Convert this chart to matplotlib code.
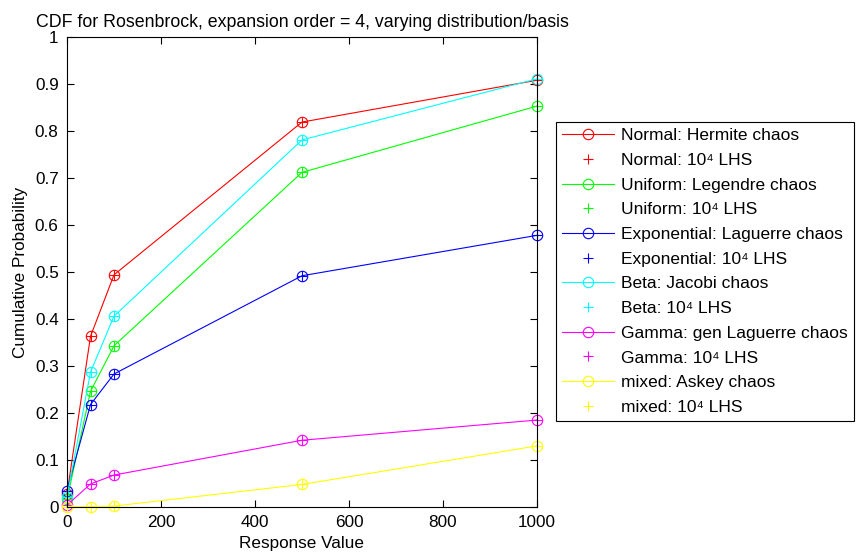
import numpy as np
import matplotlib
matplotlib.use("Agg")
import matplotlib.pyplot as plt
from matplotlib.ticker import FuncFormatter

plt.rcParams['font.family'] = ['Liberation Sans', 'DejaVu Sans']

response = [0, 50, 100, 500, 1000]

normal = [0.028, 0.363, 0.494, 0.819, 0.908]
uniform = [0.016, 0.246, 0.343, 0.712, 0.853]
exponential = [0.035, 0.218, 0.283, 0.492, 0.578]
beta = [0.022, 0.287, 0.406, 0.781, 0.911]
gamma = [0.004, 0.049, 0.068, 0.142, 0.185]
mixed = [0.001, 0.001, 0.002, 0.048, 0.130]

names = ["Normal", "Uniform", "Exponential", "Beta", "Gamma", "mixed"]
bases = ["Hermite chaos", "Legendre chaos", "Laguerre chaos",
         "Jacobi chaos", "gen Laguerre chaos", "Askey chaos"]
series = [normal, uniform, exponential, beta, gamma, mixed]
colors = ["#ff0000", "#00ff00", "#0000ff", "#00ffff", "#ff00ff", "#ffff00"]

fig = plt.figure(figsize=(8.6, 5.55), dpi=100)
ax = fig.add_axes([67/860, 48/555, 470/860, 470/555])

for name, basis, vals, col in zip(names, bases, series, colors):
    ax.plot(response, vals, '-o', color=col, lw=0.8, ms=7.5,
            mfc='none', mew=0.8, clip_on=False,
            label="%s: %s" % (name, basis))
    ax.plot(response, vals, '+', color=col, ms=7.5, mew=0.8,
            clip_on=False, label="%s: 10\u2074 LHS" % name)

ax.set_xlim(0, 1000)
ax.set_ylim(0, 1)
ax.set_xticks(np.arange(0, 1001, 200))
ax.set_yticks(np.arange(0, 1.01, 0.1))
ax.yaxis.set_major_formatter(FuncFormatter(lambda v, p: "%g" % round(v, 1)))
ax.tick_params(direction='in', top=True, right=True, length=5,
               width=0.8, labelsize=12.3, pad=6)
for s in ax.spines.values():
    s.set_linewidth(0.8)

ax.set_xlabel("Response Value", fontsize=12.3, labelpad=4)
ax.set_ylabel("Cumulative Probability", fontsize=12.3, labelpad=5)
ax.set_title("CDF for Rosenbrock, expansion order = 4, varying distribution/basis",
             fontsize=12.8, pad=7)

leg = ax.legend(loc='upper left', bbox_to_anchor=(556/860, 1 - 122/555),
                bbox_transform=fig.transFigure, borderaxespad=0,
                fontsize=12.5, fancybox=False, framealpha=1,
                edgecolor='black', handlelength=3.0, handletextpad=0.4,
                labelspacing=0.55, borderpad=0.35, numpoints=1)
leg.get_frame().set_linewidth(0.8)

fig.savefig("out.png", dpi=100)
